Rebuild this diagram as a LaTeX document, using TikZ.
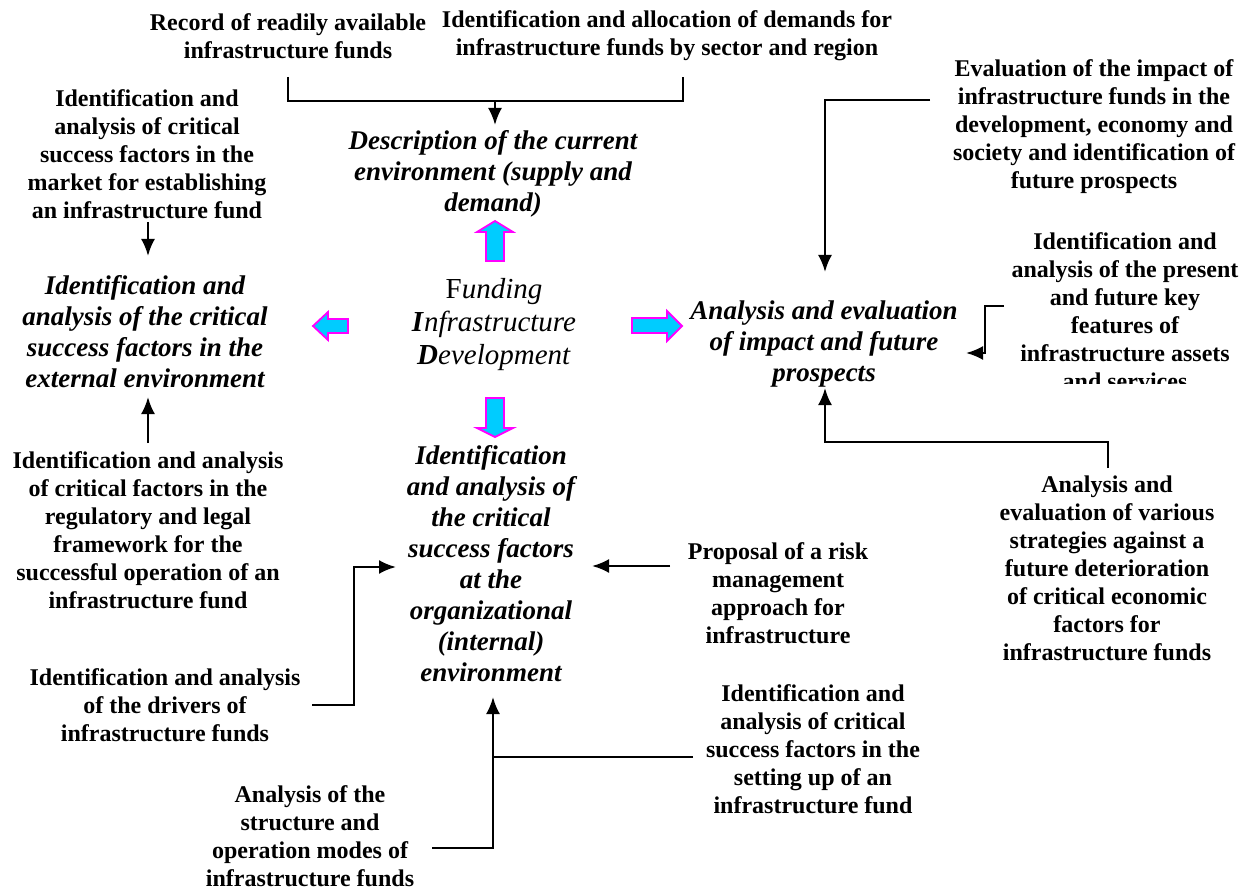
\documentclass[tikz,border=0pt]{standalone}
\usepackage{fontspec}
\setmainfont{Liberation Serif}
\usetikzlibrary{arrows.meta}
\definecolor{cyanfill}{RGB}{0,204,255}
\definecolor{magentaline}{RGB}{255,0,255}
\begin{document}
\begin{tikzpicture}[x=1pt,y=-1pt,
 bt/.style={align=center,inner sep=0pt,font=\bfseries\fontsize{24}{28}\selectfont},
 it/.style={align=center,inner sep=0pt,font=\bfseries\itshape\fontsize{27}{31}\selectfont},
 conn/.style={line width=2.4pt,-{Latex[length=17pt,width=14pt]}},
 plain/.style={line width=2.4pt},
 block/.style={fill=cyanfill,draw=magentaline,line width=1.8pt,line join=miter}]
\useasboundingbox (0,0) rectangle (1252,890);

% texts
\node[bt] (rec) at (288,36) {Record of readily available\\infrastructure funds};
\node[bt] (alloc) at (667,36) {Identification and allocation of demands for\\infrastructure funds by sector and region};
\node[it] (desc) at (493,174) {Description of the current\\environment (supply and\\demand)};
\node[inner sep=0pt,align=center,font=\fontsize{29}{33}\selectfont] (fid) at (494,325)
  {F\textit{unding}\\\textbf{\textit{I}}\textit{nfrastructure}\\\textbf{\textit{D}}\textit{evelopment}};
\node[bt] (mkt) at (147,154) {Identification and\\analysis of critical\\success factors in the\\market for establishing\\an infrastructure fund};
\node[it] (ext) at (145,332) {Identification and\\analysis of the critical\\success factors in the\\external environment};
\node[bt] (reg) at (148,530) {Identification and analysis\\of critical factors in the\\regulatory and legal\\framework for the\\successful operation of an\\infrastructure fund};
\node[bt] (drv) at (165,705) {Identification and analysis\\of the drivers of\\infrastructure funds};
\node[it] (org) at (491,564) {Identification\\and analysis of\\the critical\\success factors\\at the\\organizational\\(internal)\\environment};
\node[bt] (risk) at (778,593) {Proposal of a risk\\management\\approach for\\infrastructure};
\node[bt] (setup) at (813,749) {Identification and\\analysis of critical\\success factors in the\\setting up of an\\infrastructure fund};
\node[bt] (struct) at (310,836) {Analysis of the\\structure and\\operation modes of\\infrastructure funds};
\node[bt] (evalimp) at (1094,127) {Evaluation of the impact of\\infrastructure funds in the\\development, economy and\\society and identification of\\future prospects};
\node[it] (impact) at (824,344) {Analysis and evaluation\\of impact and future\\prospects};
\begin{scope}
\clip (930,200) rectangle (1252,383);
\node[bt] (feat) at (1125,311.5) {Identification and\\analysis of the present\\and future key\\features of\\infrastructure assets\\and services};
\end{scope}
\node[bt] (strat) at (1107,568.5) {Analysis and\\evaluation of various\\strategies against a\\future deterioration\\of critical economic\\factors for\\infrastructure funds};

% block arrows
\draw[block] (486,261)--(486,232)--(477,232)--(495,221)--(513,232)--(504,232)--(504,261)--cycle;
\draw[block] (486,398)--(504,398)--(504,428)--(513,428)--(495,437)--(477,428)--(486,428)--cycle;
\draw[block] (632,318)--(667,318)--(667,311)--(682,326)--(667,341)--(667,333)--(632,333)--cycle;
\draw[block] (348,319)--(328,319)--(328,312)--(313,326)--(328,340)--(328,333)--(348,333)--cycle;

% connector points
\coordinate (recB) at (288,77);
\coordinate (allocB) at (683,77);
\coordinate (topMid) at (495,101);
\coordinate (descT) at (495,125);
\coordinate (mktB) at (148,222);
\coordinate (extT) at (148,256);
\coordinate (regT) at (148,443);
\coordinate (extB) at (148,397);
\coordinate (drvR) at (312,705);
\coordinate (orgL) at (396,567);
\coordinate (riskL) at (670,566);
\coordinate (orgR) at (592,566);
\coordinate (structR) at (432,848);
\coordinate (orgB) at (493,697);
\coordinate (setupL) at (693,757);
\coordinate (evalL) at (930,100);
\coordinate (impT) at (825,272);
\coordinate (featL) at (1004,306);
\coordinate (impR) at (966,353);
\coordinate (stratT) at (1108,468);
\coordinate (impB) at (825,388);

% connectors
\draw[plain] (recB) -- (recB |- topMid) -- (allocB |- topMid) -- (allocB);
\draw[conn] (topMid) -- (descT);
\draw[conn] (mktB) -- (extT);
\draw[conn] (regT) -- (extB);
\draw[conn] (drvR) -- (354,705) -- (354,567) -- (orgL);
\draw[conn] (riskL) -- (orgR);
\draw[conn] (structR) -- (orgB |- structR) -- (orgB);
\draw[plain] (setupL) -- (orgB |- setupL);
\draw[conn] (evalL) -- (impT |- evalL) -- (impT);
\draw[conn] (featL) -- (985,306) -- (985,353) -- (impR);
\draw[conn] (stratT) -- (1108,442) -- (825,442) -- (impB);
\end{tikzpicture}
\end{document}
